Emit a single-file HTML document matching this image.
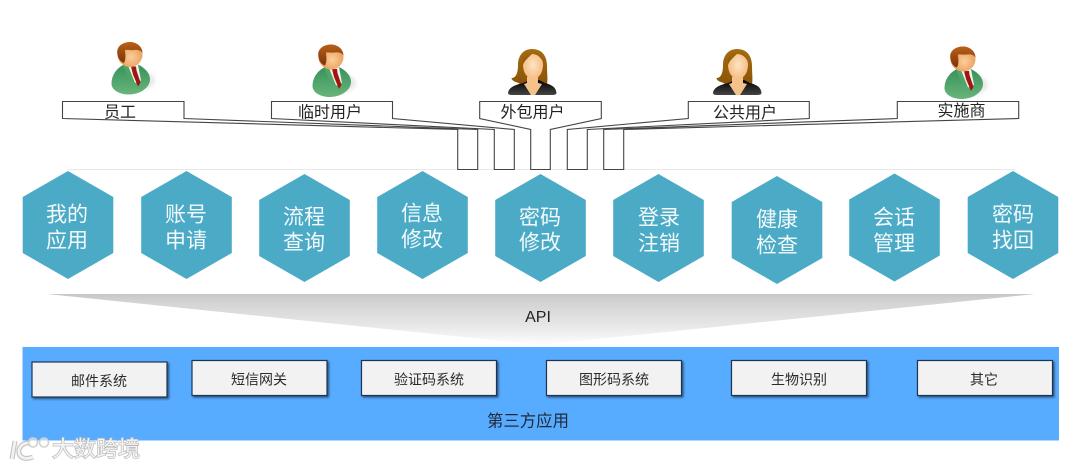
<!DOCTYPE html>
<html lang="zh">
<head>
<meta charset="utf-8">
<title>架构图</title>
<style>
html,body{margin:0;padding:0;background:#fff;width:1080px;height:469px;overflow:hidden}
svg{display:block}
text{font-family:"Liberation Sans","Noto Sans CJK SC",sans-serif;text-anchor:middle;dominant-baseline:central;transform:translateY(1px)}
.hex{font-size:21px;fill:#f4fafc}
.call{font-size:16px;fill:#222}
.box{font-size:14px;fill:#2b2b2b}
.c{fill:#fff;stroke:#444;stroke-width:1.1}
.b{fill:#f2f2f2;stroke:#1d3552;stroke-width:1.2;filter:url(#sh)}
</style>
</head>
<body>
<svg width="1080" height="469" viewBox="0 0 1080 469" xmlns="http://www.w3.org/2000/svg">
<defs>
<linearGradient id="band" x1="0" y1="0" x2="0" y2="1">
<stop offset="0" stop-color="#c6c6c6"/><stop offset=".1" stop-color="#d0d0d0"/><stop offset=".6" stop-color="#e6e6e6"/><stop offset="1" stop-color="#fdfdfd"/>
</linearGradient>
<linearGradient id="suit" x1="0" y1="0" x2="0" y2="1">
<stop offset="0" stop-color="#37925a"/><stop offset="1" stop-color="#68b57b"/>
</linearGradient>
<radialGradient id="face" cx=".55" cy=".6" r=".6">
<stop offset="0" stop-color="#fbcf9a"/><stop offset="1" stop-color="#e5934e"/>
</radialGradient>
<radialGradient id="wface" cx=".5" cy=".5" r=".6">
<stop offset="0" stop-color="#fde4c4"/><stop offset="1" stop-color="#f5b678"/>
</radialGradient>
<linearGradient id="hair" x1="0" y1="0" x2="0" y2="1">
<stop offset="0" stop-color="#b9601a"/><stop offset="1" stop-color="#7c3208"/>
</linearGradient>
<linearGradient id="whair" x1="0" y1="0" x2="0" y2="1">
<stop offset="0" stop-color="#a66c10"/><stop offset="1" stop-color="#8a5508"/>
</linearGradient>
<linearGradient id="jacket" x1="0" y1="0" x2="0" y2="1">
<stop offset="0" stop-color="#000"/><stop offset="1" stop-color="#444"/>
</linearGradient>
<filter id="sh" x="-5%" y="-10%" width="112%" height="130%">
<feDropShadow dx="1.5" dy="1.5" stdDeviation="1" flood-color="#1d3552" flood-opacity=".75"/>
</filter>
<filter id="bl" x="-30%" y="-30%" width="160%" height="160%"><feGaussianBlur stdDeviation="1.6"/></filter>
<polygon id="hx" points="0,0 45.3,26 45.3,82 0,108 -45.3,82 -45.3,26" fill="#4babc6"/>
<g id="man">
<ellipse cx="8" cy="26" rx="17" ry="10" fill="#dcdcdc" opacity=".6" filter="url(#bl)"/>
<path d="M-6,10 C-14,14 -18.5,21 -18.5,29 C-18.5,36 -10,40 -1,40 C10,40 20,33 20,25 C20,18 14,13 8,10 Z" fill="url(#suit)"/>
<path d="M-4,10 L8,10 L11,26 L4,29 Z" fill="#eef3ee"/>
<path d="M1,12 L6,12 L6.5,16 L10.5,28 L8,32 L3,20 Z" fill="#a3150f"/>
<path d="M-7,11 L-2,11 L6,31 L-1,24 Z" fill="#4fa566"/>
<circle cx="0" cy="0" r="12.5" fill="url(#face)"/>
<path d="M-6,8.5 C-11,7 -13,1 -12.8,-3 C-12.5,-9 -6.5,-12.5 0,-12.5 C7,-12.5 12.5,-7.5 12.5,-1.5 C11,-4 8,-5 4,-4.5 C0,-4 -3,-5 -5,-4.5 C-5,-1 -3.5,3 -6,8.5 Z" fill="url(#hair)"/>
</g>
<g id="woman">
<path d="M0,-16 C10,-16 15,-9 15,1 C15,9 16,14 15,19 L-12,19 C-14,17 -20,17 -20.5,13 C-16,13 -14,8 -14,0 C-14,-9 -9,-16 0,-16 Z" fill="url(#whair)"/>
<path d="M-24,28 C-23,22 -17,20 -9,18 L-2,15 L7,15 L13,18 C21,20 24,23 24.5,28 Q24.5,30 20,30 L-20,30 Q-24,30 -24,28 Z" fill="url(#jacket)"/>
<path d="M-5,12 L6,12 L6,18 L10,19 L3,30 L-1,30 L-8,19 L-5,18 Z" fill="#f5c28c"/>
<ellipse cx="1" cy="0" rx="10" ry="14" fill="url(#wface)"/>
<path d="M0,-15 C6,-15 10,-10 11.5,-2 C9,-8 5,-11 0,-11 C-3,-8 -8,-4 -9,0 C-10,-8 -6,-14 0,-15 Z" fill="url(#whair)"/>
</g>
</defs>

<rect width="1080" height="469" fill="#fff"/>
<line x1="68" y1="169.5" x2="1015" y2="169.5" stroke="#e8e8e8"/>

<!-- people -->
<use href="#man" x="130" y="54.5"/>
<use href="#man" x="331" y="57"/>
<use href="#woman" x="532" y="65"/>
<use href="#woman" x="737" y="65"/>
<use href="#man" x="963" y="59"/>

<!-- callouts -->
<polygon class="c" points="62.5,101.5 184,101.5 184,118.5 477.7,129.5 477.7,169.5 457.7,169.5 457.7,129.5 62.5,118.5"/>
<polygon class="c" points="271.5,101.5 392.5,101.5 392.5,118.5 514.3,129.5 514.3,169.5 494.3,169.5 494.3,129.5 271.5,118.5"/>
<polygon class="c" points="479.7,101.5 601.3,101.5 601.3,118.5 550.3,129.5 550.3,169.5 530.7,169.5 530.7,129.5 479.7,118.5"/>
<polygon class="c" points="688.3,101.5 809.3,101.5 809.3,118.5 587.3,129.5 587.3,169.5 567.3,169.5 567.3,129.5 688.3,118.5"/>
<polygon class="c" points="897.3,101.5 1018.7,101.5 1018.7,118.5 623.7,129.5 623.7,169.5 603.7,169.5 603.7,129.5 897.3,118.5"/>
<text class="call" x="120" y="112">员工</text>
<text class="call" x="330" y="112">临时用户</text>
<text class="call" x="532.5" y="112">外包用户</text>
<text class="call" x="745" y="112.5">公共用户</text>
<text class="call" x="961.5" y="110.5">实施商</text>

<!-- hexagons -->
<use href="#hx" x="68" y="171"/>
<use href="#hx" x="186.5" y="171"/>
<use href="#hx" x="304.5" y="174"/>
<use href="#hx" x="422.5" y="171"/>
<use href="#hx" x="540.5" y="174"/>
<use href="#hx" x="658.5" y="174"/>
<use href="#hx" x="777" y="176"/>
<use href="#hx" x="894.5" y="173.5"/>
<use href="#hx" x="1013" y="171"/>
<text class="hex" x="67" y="214">我的</text><text class="hex" x="67" y="240">应用</text>
<text class="hex" x="186" y="214">账号</text><text class="hex" x="186" y="240">申请</text>
<text class="hex" x="304" y="216.5">流程</text><text class="hex" x="304" y="242">查询</text>
<text class="hex" x="422" y="213">信息</text><text class="hex" x="422" y="239">修改</text>
<text class="hex" x="540" y="217">密码</text><text class="hex" x="540" y="242">修改</text>
<text class="hex" x="659" y="217">登录</text><text class="hex" x="659" y="243">注销</text>
<text class="hex" x="777" y="219">健康</text><text class="hex" x="777" y="245">检查</text>
<text class="hex" x="894" y="217">会话</text><text class="hex" x="894" y="243">管理</text>
<text class="hex" x="1013" y="214">密码</text><text class="hex" x="1013" y="240">找回</text>

<!-- API band -->
<polygon points="47,294 1035,294 540,345" fill="url(#band)"/>
<text x="538" y="316.5" style="font-size:16px;fill:#222">API</text>

<!-- third party -->
<rect x="22.5" y="347" width="1036.5" height="93.5" fill="#58acff"/>
<rect class="b" x="32" y="362" width="135" height="35"/>
<rect class="b" x="192" y="360.5" width="135" height="35"/>
<rect class="b" x="361.5" y="360.5" width="135" height="35"/>
<rect class="b" x="546.5" y="360.5" width="135" height="35"/>
<rect class="b" x="731.5" y="360.5" width="135" height="35"/>
<rect class="b" x="917.5" y="360.5" width="135" height="35"/>
<text class="box" x="99" y="380">邮件系统</text>
<text class="box" x="259" y="378.5">短信网关</text>
<text class="box" x="429" y="378.5">验证码系统</text>
<text class="box" x="614" y="378.5">图形码系统</text>
<text class="box" x="799" y="378.5">生物识别</text>
<text class="box" x="984" y="378.5">其它</text>
<text x="528" y="420.5" style="font-size:16.4px;fill:#1e2a38">第三方应用</text>

<!-- watermark -->
<g fill="none" stroke="#c4c4c4" stroke-width="5">
<path d="M15,441 L12,459"/>
<path d="M31,443 C22,442 18,448 19,453 C20,458 26,460 33,457"/>
</g>
<g fill="none" stroke="#f4f4f4" stroke-width="2.6">
<path d="M15,441 L12,459"/>
<path d="M31,443 C22,442 18,448 19,453 C20,458 26,460 33,457"/>
</g>
<g fill="rgba(255,255,255,.55)" stroke="#d0d0d0" stroke-width="1.6">
<circle cx="33" cy="442.5" r="4.5"/><circle cx="44" cy="442.5" r="4.5"/>
</g>
<text x="96" y="448" style="font-size:22px;fill:#f4f4f4;stroke:#b5b5b5;stroke-width:1.3px;paint-order:stroke">大数跨境</text>
</svg>
</body>
</html>
